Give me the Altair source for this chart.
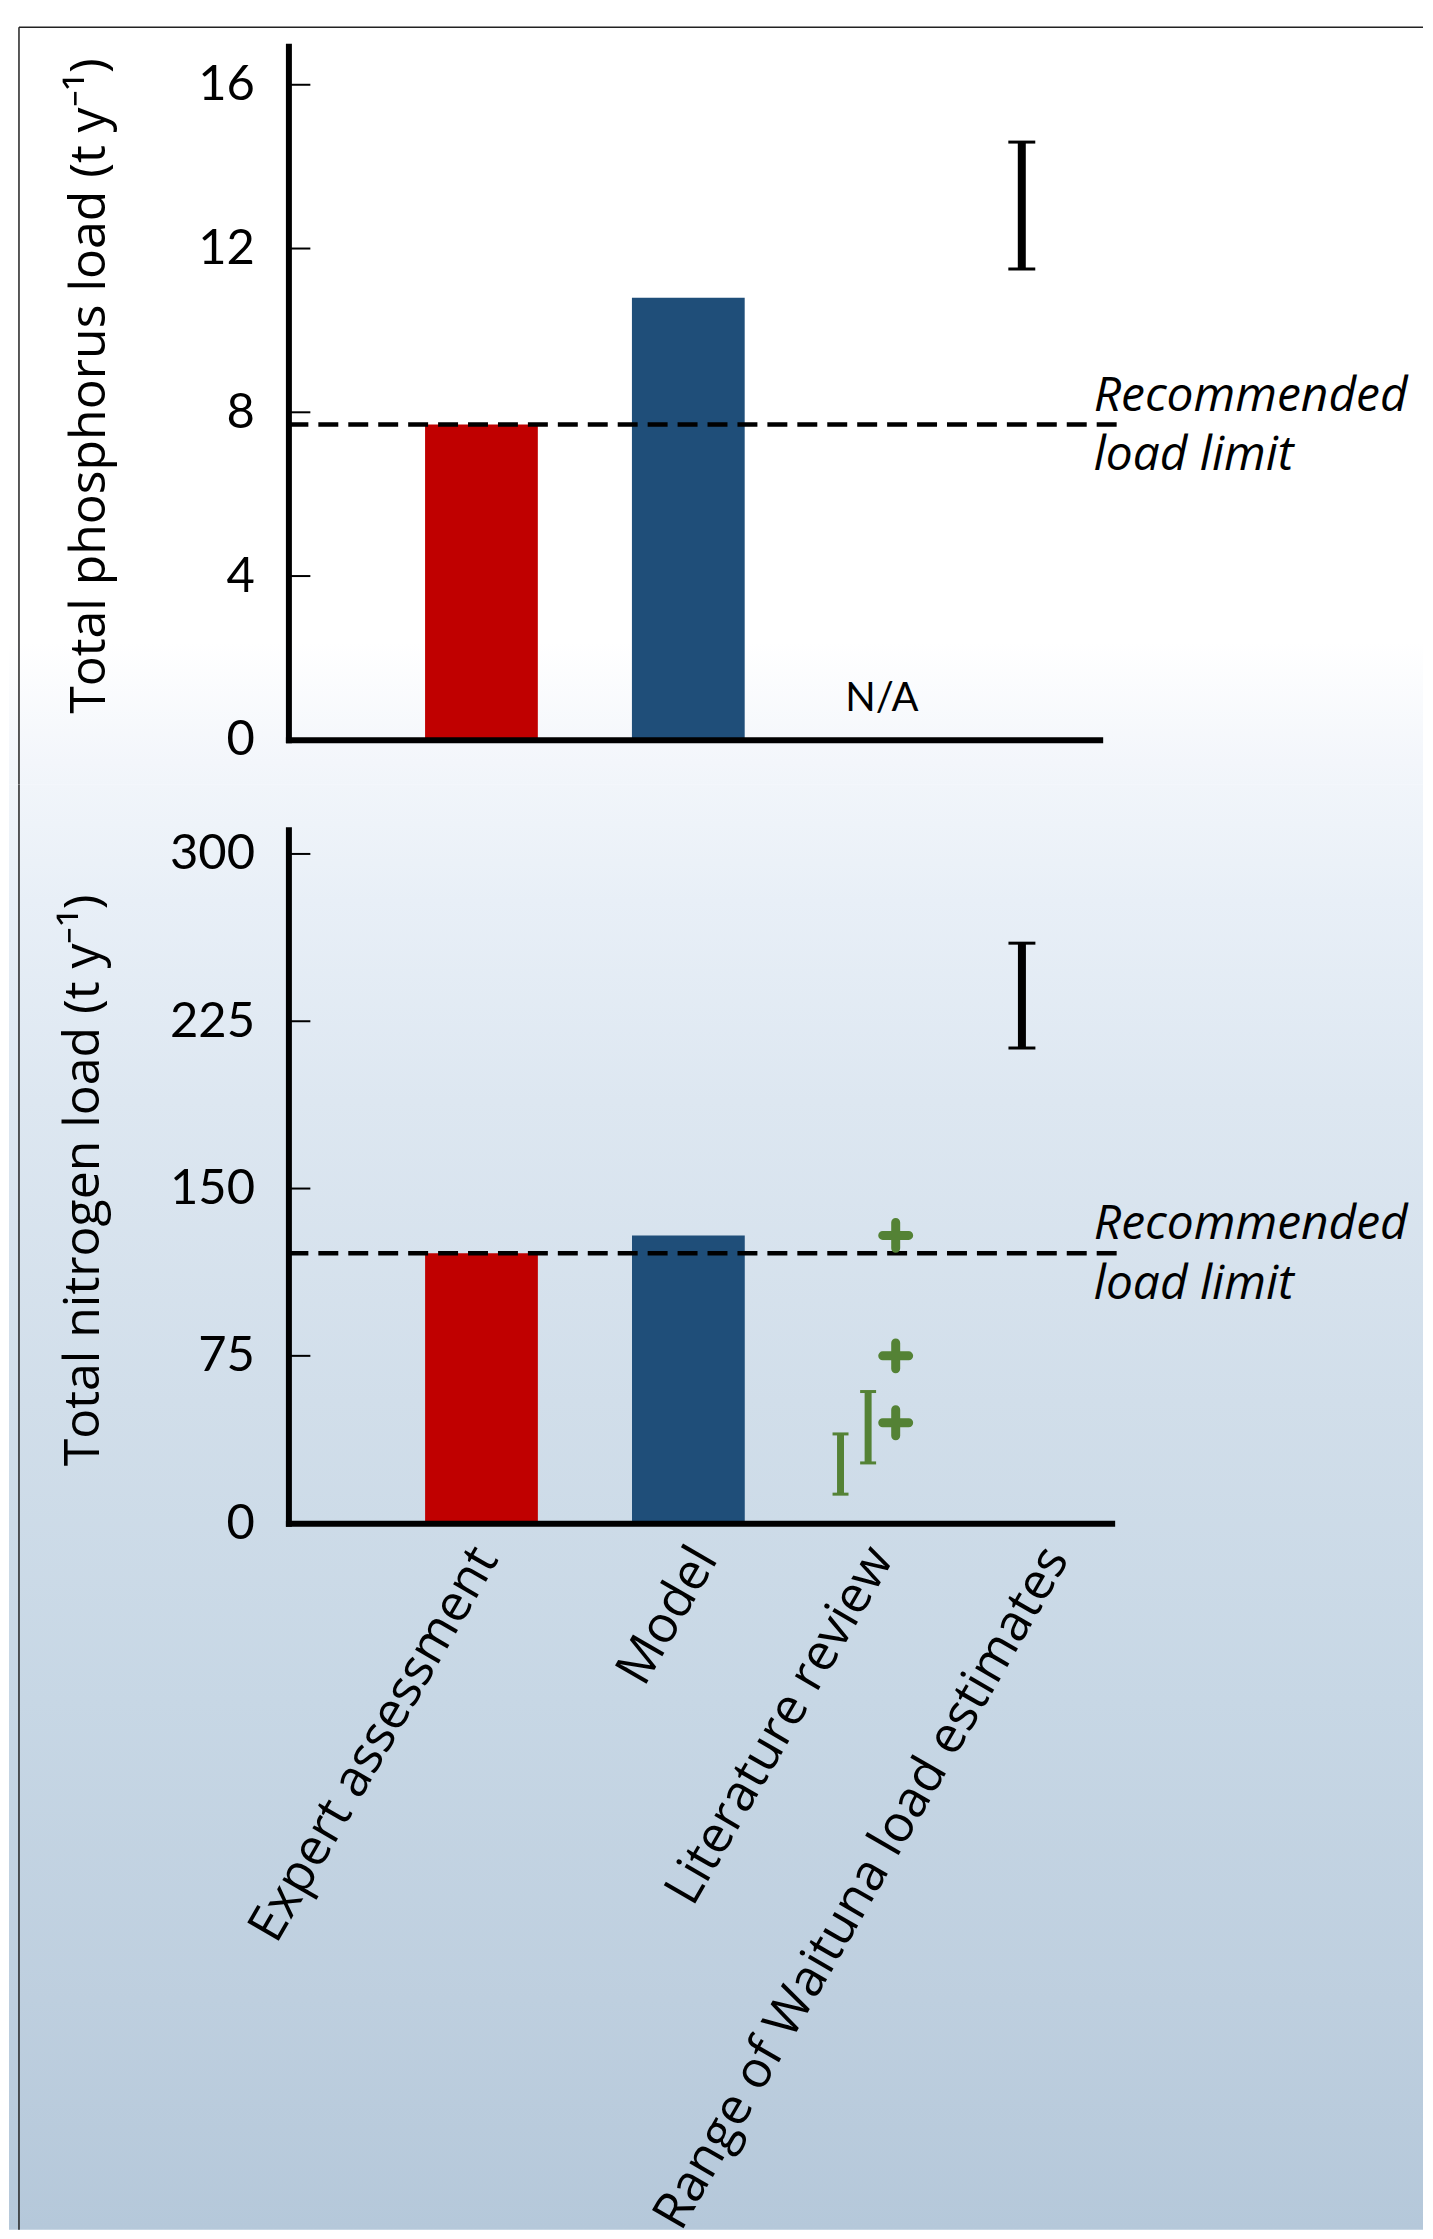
import altair as alt
import pandas as pd

# ---------------- data ----------------
categories = ["Expert assessment", "Model", "Literature review",
              "Range of Waituna load estimates"]
label_pos = [1.02, 2.07, 2.91, 3.75]          # x position of each category label

bar_names = ["Expert assessment", "Model"]
bar_pos = [1.0, 1.99]
bar_colors = ["#c00000", "#1f4e79"]
p_bar_values = [7.7, 10.8]        # total phosphorus, t/y
n_bar_values = [121, 129]         # total nitrogen, t/y

p_limit = [7.7]
n_limit = [121]
limit_text = ["Recommended\nload limit"]
limit_text_pos = [3.93]

range_pos = [3.586]
p_range_lo = [11.5]
p_range_hi = [14.6]
n_range_lo = [213]
n_range_hi = [260]

lit_cross_pos = [2.982, 2.982, 2.982]
lit_cross_values = [129, 75, 45]
lit_range_pos = [2.718, 2.85]
lit_range_lo = [13, 27]
lit_range_hi = [40, 59]

na_pos = [2.916]
na_value = [0.7]
na_text = ["N/A"]

p_ticks = [0, 4, 8, 12, 16]
n_ticks = [0, 75, 150, 225, 300]

# ---------------- style ----------------
GREEN = "#548235"
TOP_Y0 = 43          # page y of top plot area
SPACING = 90
PLOT_H = 695
TOP_W, BOT_W = 813, 825
X0 = 288             # page x of the y axis
PAGE_RIGHT = 1425
PAGE_BOTTOM = 2231

bg_anchors = [(0, "#ffffff"), (640, "#ffffff"), (760, "#f3f6fb"), (900, "#e8eff7"),
              (1100, "#dde7f1"), (1400, "#d1deea"), (1700, "#c7d7e5"),
              (2000, "#becfdf"), (2239, "#b5c8da")]


def _hex(c):
    return [int(c[i:i + 2], 16) for i in (1, 3, 5)]


def color_at(y):
    for (ya, ca), (yb, cb) in zip(bg_anchors[:-1], bg_anchors[1:]):
        if ya <= y <= yb:
            t = (y - ya) / (yb - ya) if yb > ya else 0
            a, b = _hex(ca), _hex(cb)
            return "#%02x%02x%02x" % tuple(round(a[i] + (b[i] - a[i]) * t) for i in range(3))
    return bg_anchors[-1][1]


def gradient(y0, y1):
    pts = [y0] + [ya for ya, _ in bg_anchors if y0 < ya < y1] + [y1]
    stops = [alt.GradientStop(offset=(p - y0) / (y1 - y0), color=color_at(p)) for p in pts]
    return alt.LinearGradient(gradient="linear", stops=stops, x1=0, x2=0, y1=0, y2=1)


one = pd.DataFrame({"k": [0]})


def panel(bar_values, limit, r_lo, r_hi, ticks, ymax, width, ytitle, title_x, title_y,
          page_y0, bottom):
    xs = alt.Scale(domain=[0.1, 0.1 + width / 212.0], nice=False, zero=False)
    ys = alt.Scale(domain=[0, ymax], nice=False, zero=False)

    if bottom:
        mids = [(a + b) / 2 for a, b in zip(label_pos[:-1], label_pos[1:])]
        expr = "'" + categories[-1] + "'"
        for m, c in reversed(list(zip(mids, categories[:-1]))):
            expr = "datum.value < %s ? '%s' : %s" % (m, c, expr)
        xaxis = alt.Axis(values=label_pos, labelExpr=expr, labelAngle=300,
                         labelAlign="right", labelBaseline="middle", labelFont="Open Sans",
                         labelFontSize=51, labelColor="black", labelPadding=28,
                         labelLimit=2000,
                         labelFlush=False, labelOverlap=False, labelBound=False,
                         ticks=False, domainWidth=6, domainColor="black", domainCap="square",
                         grid=False, title=None, zindex=1)
    else:
        xaxis = alt.Axis(labels=False, ticks=False, domainWidth=6, domainColor="black",
                         domainCap="square", grid=False, title=None, zindex=1)
    yaxis = alt.Axis(values=ticks, ticks=False, domainWidth=6, domainColor="black",
                     domainCap="square", grid=False, labelFont="Lato", labelFontSize=49,
                     labelColor="black", labelPadding=34, labelFlush=False,
                     labelOverlap=False, title=ytitle, titleFont="Open Sans",
                     titleFontSize=50, titleFontWeight="normal", titleColor="black",
                     titleX=title_x, titleY=title_y, titleAngle=270, titleAlign="center",
                     titleBaseline="bottom", titleLimit=2000, zindex=1)

    def X(f):
        return alt.X(f, scale=xs, axis=xaxis)

    def Y(f):
        return alt.Y(f, scale=ys, axis=yaxis)

    if bottom:
        r_y0, r_y1 = -SPACING / 2, PAGE_BOTTOM - page_y0
    else:
        r_y0, r_y1 = -(page_y0 - 8), PLOT_H + SPACING / 2
    bg = alt.Chart(one).mark_rect(fill=gradient(page_y0 + r_y0, page_y0 + r_y1)).encode(
        x=alt.value(8 - X0), x2=alt.value(PAGE_RIGHT - X0),
        y=alt.value(r_y0), y2=alt.value(r_y1))
    border_y0 = (24 - page_y0) if not bottom else r_y0
    border_v = alt.Chart(one).mark_rule(color="#222222", strokeWidth=1.5).encode(
        x=alt.value(18 - X0), y=alt.value(border_y0), y2=alt.value(r_y1))
    layers = [bg, border_v]
    if not bottom:
        border_h = alt.Chart(one).mark_rule(color="#222222", strokeWidth=1.5).encode(
            y=alt.value(24 - page_y0), x=alt.value(18 - X0), x2=alt.value(PAGE_RIGHT - X0))
        layers.append(border_h)

    bars_df = pd.DataFrame({"name": bar_names, "pos": bar_pos, "v": bar_values,
                            "col": bar_colors})
    bars = alt.Chart(bars_df).mark_bar(size=113).encode(
        x=X("pos:Q"), y=Y("v:Q"), fill=alt.Fill("col:N", scale=None))
    layers.append(bars)

    tick_df = pd.DataFrame({"t": [t for t in ticks if t > 0]})
    tick_rules = alt.Chart(tick_df).mark_rule(color="black", strokeWidth=2).encode(
        y=Y("t:Q"), x=alt.value(0), x2=alt.value(22))
    layers.append(tick_rules)

    lim_df = pd.DataFrame({"v": limit, "pos": limit_text_pos, "txt": limit_text})
    lim = alt.Chart(lim_df).mark_rule(color="black", strokeWidth=4.5,
                                      strokeDash=[20, 10]).encode(
        y=Y("v:Q"), x=alt.value(0), x2=alt.value(832))
    lim_txt = alt.Chart(lim_df).mark_text(font="Open Sans", fontStyle="italic",
                                          fontSize=48, align="left",
                                          baseline="alphabetic", dy=-14,
                                          lineBreak="\n", lineHeight=60,
                                          color="black").encode(
        x=X("pos:Q"), y=Y("v:Q"), text="txt:N")
    layers += [lim, lim_txt]

    def errbar(pos, lo, hi, color, stem, cap):
        d = pd.DataFrame({"pos": pos, "lo": lo, "hi": hi})
        st = alt.Chart(d).mark_rule(color=color, strokeWidth=stem).encode(
            x=X("pos:Q"), y=Y("lo:Q"), y2="hi:Q")
        caps = alt.Chart(d).transform_fold(["lo", "hi"], as_=["end", "val"]).mark_point(
            shape="M-1,0L1,0", size=cap * cap, strokeWidth=3, color=color,
            filled=False, opacity=1).encode(x=X("pos:Q"), y=Y("val:Q"))
        return [st, caps]

    layers += errbar(range_pos, r_lo, r_hi, "black", 8, 27)

    if bottom:
        layers += errbar(lit_range_pos, lit_range_lo, lit_range_hi, GREEN, 7, 16)
        cross_df = pd.DataFrame({"pos": lit_cross_pos, "v": lit_cross_values})
        cross = alt.Chart(cross_df).mark_point(
            shape="M-1,0L1,0M0,-1L0,1", size=26 * 26, strokeWidth=9, strokeCap="round",
            color=GREEN, filled=False, opacity=1).encode(x=X("pos:Q"), y=Y("v:Q"))
        layers.append(cross)
    else:
        na_df = pd.DataFrame({"pos": na_pos, "v": na_value, "txt": na_text})
        na = alt.Chart(na_df).mark_text(font="Lato", fontSize=40, align="center",
                                        baseline="alphabetic", color="black").encode(
            x=X("pos:Q"), y=Y("v:Q"), text="txt:N")
        layers.append(na)

    return alt.layer(*layers).properties(width=width, height=PLOT_H)


top = panel(p_bar_values, p_limit, p_range_lo, p_range_hi, p_ticks, 16.94, TOP_W,
            "Total phosphorus load (t y\u207b\u00b9)", -174, 340, TOP_Y0, False)
bottom = panel(n_bar_values, n_limit, n_range_lo, n_range_hi, n_ticks, 310.9, BOT_W,
               "Total nitrogen load (t y\u207b\u00b9)", -180, 351,
               TOP_Y0 + PLOT_H + SPACING, True)

chart = alt.vconcat(top, bottom, spacing=SPACING, bounds="flush").properties(
    padding=0).configure(background="white").configure_view(stroke="transparent")

chart.save("out.html", embed_options={"renderer": "svg", "actions": False})
